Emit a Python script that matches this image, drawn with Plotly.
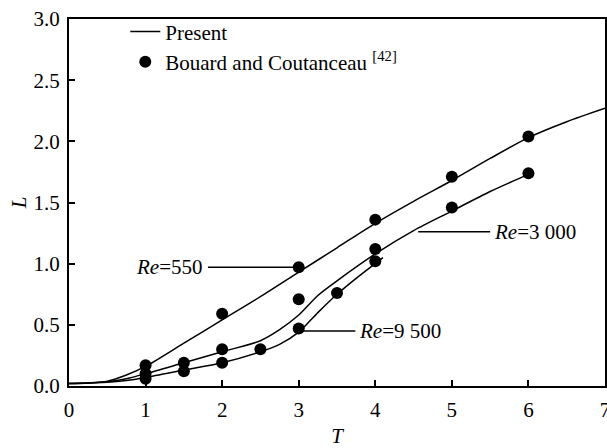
import plotly.graph_objects as go

# ---- computed curves ("Present") ----
T_RE550 = [0, 0.25, 0.5, 0.75, 1.0, 1.5, 2.0, 2.5, 3.0, 3.5, 4.0, 4.5, 5.0, 5.5, 6.0, 6.5, 7.0]
L_RE550 = [0.02, 0.025, 0.04, 0.09, 0.16, 0.35, 0.54, 0.73, 0.93, 1.13, 1.33, 1.51, 1.68, 1.86, 2.03, 2.16, 2.27]

T_RE3000 = [0, 0.25, 0.5, 0.75, 1.0, 1.5, 2.0, 2.5, 2.75, 3.0, 3.25, 3.5, 4.0, 4.5, 5.0, 5.5, 6.0]
L_RE3000 = [0.02, 0.025, 0.035, 0.06, 0.10, 0.19, 0.28, 0.37, 0.46, 0.58, 0.74, 0.86, 1.08, 1.27, 1.43, 1.59, 1.73]

T_RE9500 = [0, 0.25, 0.5, 0.75, 1.0, 1.5, 2.0, 2.5, 2.75, 3.0, 3.25, 3.5, 3.75, 4.1]
L_RE9500 = [0.02, 0.025, 0.03, 0.045, 0.07, 0.13, 0.19, 0.28, 0.34, 0.44, 0.60, 0.75, 0.88, 1.05]

# ---- experiment (Bouard and Coutanceau) ----
EXP_T_RE550 = [1, 2, 3, 4, 5, 6]
EXP_L_RE550 = [0.17, 0.59, 0.97, 1.36, 1.71, 2.04]
EXP_T_RE3000 = [1, 1.5, 2, 3, 4, 5, 6]
EXP_L_RE3000 = [0.10, 0.19, 0.30, 0.71, 1.12, 1.46, 1.74]
EXP_T_RE9500 = [1, 1.5, 2, 2.5, 3, 3.5, 4]
EXP_L_RE9500 = [0.06, 0.12, 0.19, 0.30, 0.47, 0.76, 1.02]

# ---- Re labels with leader lines ----
LABEL_TEXT = ["<i>Re</i>=550", "<i>Re</i>=3 000", "<i>Re</i>=9 500"]
LABEL_T = [1.77, 5.53, 3.76]
LABEL_ANCHOR = ["right", "left", "left"]
LEADER_T0 = [1.815, 4.56, 3.0]
LEADER_T1 = [2.93, 5.50, 3.74]
LEADER_L = [0.97, 1.26, 0.45]

X_TICKS = [0, 1, 2, 3, 4, 5, 6, 7]
Y_TICKS = [0.0, 0.5, 1.0, 1.5, 2.0, 2.5, 3.0]

FONT = "Times New Roman, Liberation Serif, DejaVu Serif, serif"
FS = 21
fig = go.Figure()

curves = [(T_RE550, L_RE550), (T_RE3000, L_RE3000), (T_RE9500, L_RE9500)]
for i, (t, l) in enumerate(curves):
    fig.add_trace(go.Scatter(
        x=t, y=l, mode="lines", name="Present", showlegend=(i == 0),
        legendgroup="present",
        line=dict(color="black", width=1.5, shape="spline", smoothing=0.8)))

exps = [(EXP_T_RE550, EXP_L_RE550), (EXP_T_RE3000, EXP_L_RE3000), (EXP_T_RE9500, EXP_L_RE9500)]
for i, (t, l) in enumerate(exps):
    fig.add_trace(go.Scatter(
        x=t, y=l, mode="markers", name="Bouard and Coutanceau <sup>[42]</sup>",
        showlegend=(i == 0), legendgroup="exp",
        marker=dict(color="black", size=12)))

for t0, t1, lv in zip(LEADER_T0, LEADER_T1, LEADER_L):
    fig.add_shape(type="line", x0=t0, x1=t1, y0=lv, y1=lv, xref="x", yref="y",
                  line=dict(color="black", width=1.5))

for txt, tx, anc, lv in zip(LABEL_TEXT, LABEL_T, LABEL_ANCHOR, LEADER_L):
    fig.add_annotation(x=tx, y=lv, text=txt, showarrow=False, xanchor=anc,
                       yanchor="middle", font=dict(family=FONT, size=FS, color="black"))

fig.update_layout(
    width=607, height=448,
    margin=dict(l=69, r=2, t=19, b=62, autoexpand=False),
    paper_bgcolor="white", plot_bgcolor="white",
    font=dict(family=FONT, size=FS, color="black"),
    showlegend=True,
    legend=dict(x=0.105, y=1.021, xanchor="left", yanchor="top",
                bgcolor="rgba(0,0,0,0)", font=dict(family=FONT, size=FS),
                tracegroupgap=0),
)
fig.update_xaxes(
    range=[0, 7], tickvals=X_TICKS, ticktext=[str(v) for v in X_TICKS],
    ticks="inside", ticklen=6, tickwidth=1.5, tickcolor="black",
    showline=True, linecolor="black", linewidth=2, mirror=True,
    showgrid=False, zeroline=False, ticklabeloverflow="allow", automargin=False,
    title=dict(text="<i>T</i>", standoff=21, font=dict(family=FONT, size=FS)),
    ticklabelstandoff=4,
)
fig.update_yaxes(
    range=[0, 3], tickvals=Y_TICKS, ticktext=[f"{v:.1f}" for v in Y_TICKS],
    ticks="inside", ticklen=6, tickwidth=1.5, tickcolor="black",
    showline=True, linecolor="black", linewidth=2, mirror=True,
    showgrid=False, zeroline=False, ticklabeloverflow="allow", automargin=False,
    title=dict(text="<i>L</i>", standoff=1, font=dict(family=FONT, size=FS)),
    ticklabelstandoff=3,
)

fig.write_html("out.html")
